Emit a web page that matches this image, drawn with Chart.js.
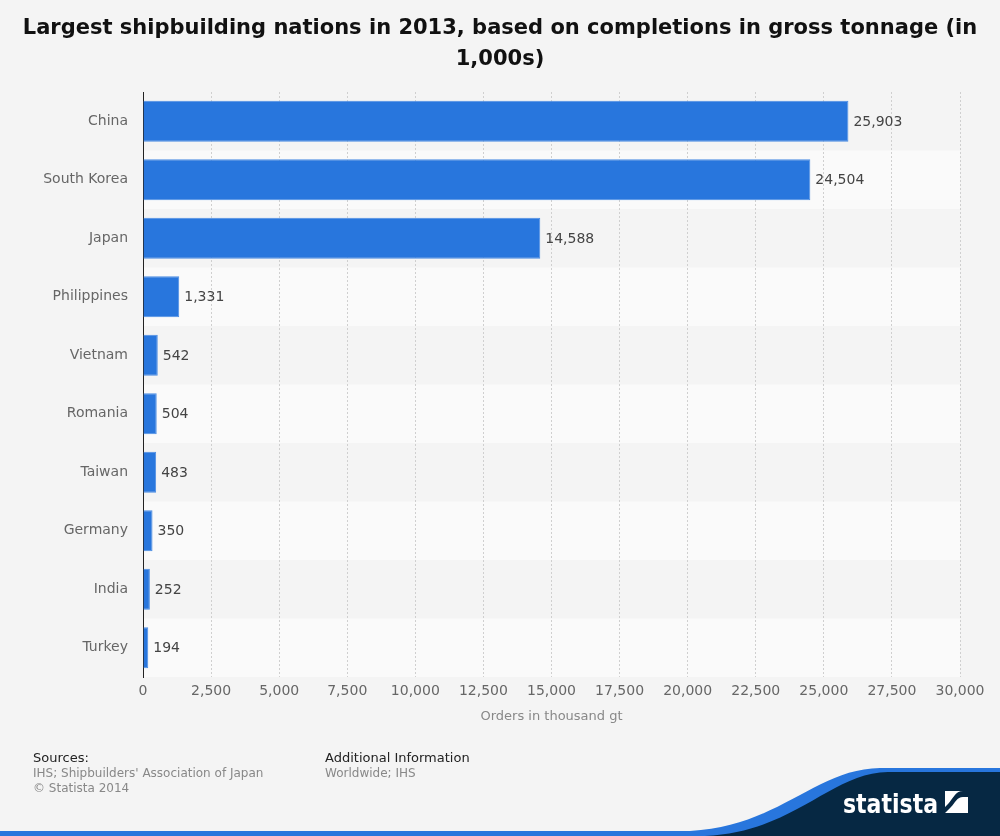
<!DOCTYPE html>
<html>
<head>
<meta charset="utf-8">
<script src="https://cdn.jsdelivr.net/npm/chart.js@4/dist/chart.umd.min.js"></script>
<style>
  body { margin: 0; background: #f4f4f4; font-family: 'DejaVu Sans', sans-serif; }
  #wrap { position: relative; width: 1000px; height: 836px; overflow: hidden; }
  #chart { position: absolute; left: 0; top: 0; }
  .title { position: absolute; left: 0; top: 12px; width: 1000px; text-align: center;
           font-weight: bold; font-size: 21px; line-height: 31px; color: #111; }
  .foot { position: absolute; top: 750px; font-size: 12px; line-height: 15px; color: #888; }
  .foot b { display: block; font-weight: normal; font-size: 13px; color: #222; margin-bottom: 1px; }
  #logo { position: absolute; left: 0; top: 0; }
</style>
</head>
<body>
<div id="wrap">
  <canvas id="chart" width="1000" height="836"></canvas>
  <div class="title">Largest shipbuilding nations in 2013, based on completions in gross tonnage (in<br>1,000s)</div>
  <div class="foot" style="left:33px"><b>Sources:</b>IHS; Shipbuilders' Association of Japan<br>© Statista 2014</div>
  <div class="foot" style="left:325px"><b>Additional Information</b>Worldwide; IHS</div>
  <svg id="logo" width="1000" height="836">
    <path d="M0 836 L0 831 L690 831 C780 826 815 769 880 768 L1000 768 L1000 836 Z" fill="#2876dd"/>
    <path d="M705 836 C795 832 830 773 888 772 L1000 772 L1000 836 Z" fill="#062843"/>
    <text x="843" y="813" font-family="'DejaVu Sans'" font-weight="bold" font-size="27" fill="#fff" textLength="95" lengthAdjust="spacingAndGlyphs">statista</text>
    <rect x="945" y="791" width="23" height="22" fill="#fff"/>
    <path d="M945 813 L951 807 C955 803 957 797 963 797 L968 797 L968 791 L963 791 C955 791 953 799 948 804 L945 807 Z" fill="#062843"/>
  </svg>
</div>
<script>
const categories = ['China', 'South Korea', 'Japan', 'Philippines', 'Vietnam', 'Romania', 'Taiwan', 'Germany', 'India', 'Turkey'];
const completions = [25903, 24504, 14588, 1331, 542, 504, 483, 350, 252, 194];
const xMax = 30000;
const xStep = 2500;

const fmt = v => Number(v).toLocaleString('en-US');

// alternating row bands behind the bars
const bandPlugin = {
  id: 'bands',
  beforeDraw(chart) {
    const { ctx, chartArea, scales } = chart;
    const y = scales.y;
    const half = (y.getPixelForValue(1) - y.getPixelForValue(0)) / 2;
    ctx.save();
    categories.forEach((c, i) => {
      if (i % 2 === 1) {
        const py = y.getPixelForValue(i);
        ctx.fillStyle = '#fafafa';
        ctx.fillRect(chartArea.left, py - half, chartArea.right - chartArea.left, half * 2);
      }
    });
    ctx.restore();
  }
};

// value labels at bar ends
const labelPlugin = {
  id: 'valueLabels',
  afterDatasetsDraw(chart) {
    const { ctx } = chart;
    const meta = chart.getDatasetMeta(0);
    ctx.save();
    ctx.font = '14px "DejaVu Sans", sans-serif';
    ctx.fillStyle = '#444';
    ctx.textBaseline = 'middle';
    ctx.textAlign = 'left';
    meta.data.forEach((bar, i) => {
      ctx.fillText(fmt(completions[i]), bar.x + 5, bar.y + 1);
    });
    ctx.restore();
  }
};

new Chart(document.getElementById('chart'), {
  type: 'bar',
  data: {
    labels: categories,
    datasets: [{
      data: completions,
      backgroundColor: '#2876dd',
      borderColor: '#4b8de3',
      borderWidth: 1,
      barPercentage: 0.7,
      categoryPercentage: 1
    }]
  },
  options: {
    indexAxis: 'y',
    responsive: false,
    animation: false,
    layout: { padding: { top: 92, right: 40, bottom: 112, left: 0 } },
    plugins: { legend: { display: false }, tooltip: { enabled: false } },
    scales: {
      x: {
        min: 0,
        max: xMax,
        afterFit: s => { s.height = 47; },
        ticks: {
          stepSize: xStep,
          padding: 6,
          color: '#666',
          font: { family: 'DejaVu Sans', size: 14 },
          callback: v => fmt(v)
        },
        grid: { color: '#cfcfcf', drawTicks: false, lineWidth: 1 },
        border: { display: false, dash: [2, 2] },
        title: {
          display: true,
          text: 'Orders in thousand gt',
          color: '#888',
          font: { family: 'DejaVu Sans', size: 13 },
          padding: 0
        }
      },
      y: {
        afterFit: s => { s.width = 143; },
        ticks: {
          padding: 7,
          color: '#666',
          font: { family: 'DejaVu Sans', size: 14 }
        },
        grid: { display: false },
        border: { display: true, color: '#222', width: 1 }
      }
    }
  },
  plugins: [bandPlugin, labelPlugin]
});
</script>
</body>
</html>
